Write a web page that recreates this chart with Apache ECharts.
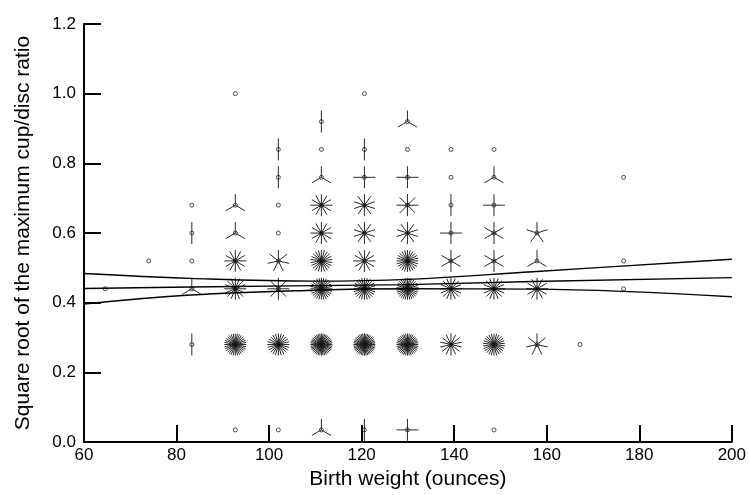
<!DOCTYPE html>
<html>
<head>
<meta charset="utf-8">
<script src="https://cdn.jsdelivr.net/npm/echarts@6/dist/echarts.min.js"></script>
<style>html,body{margin:0;padding:0;background:#fff;}#chart{width:749px;height:495px;}</style>
</head>
<body>
<div id="chart"></div>
<script>
// Birth weight bins (ounces) – x positions of the sunflowers
const weights = [64.6, 74.0, 83.3, 92.7, 102.0, 111.3, 120.6, 129.9, 139.3, 148.6, 157.9, 167.2, 176.6];
// Square-root cup/disc ratio levels
const ratioLevels = [0.035, 0.28, 0.44, 0.52, 0.60, 0.68, 0.76, 0.84, 0.92, 1.00];
// Number of observations (petals) at each level, aligned with weights
const counts_0035 = [0, 0, 0, 1, 1, 3, 2, 4, 0, 1, 0, 0, 0];
const counts_028  = [0, 0, 2, 32, 24, 40, 40, 36, 14, 26, 7, 1, 0];
const counts_044  = [1, 0, 3, 16, 8, 28, 24, 30, 16, 16, 12, 0, 1];
const counts_052  = [0, 1, 1, 12, 7, 22, 12, 24, 6, 6, 3, 0, 1];
const counts_060  = [0, 0, 2, 3, 1, 12, 10, 10, 4, 6, 5, 0, 0];
const counts_068  = [0, 0, 1, 3, 1, 12, 10, 8, 2, 4, 0, 0, 0];
const counts_076  = [0, 0, 0, 0, 2, 3, 4, 4, 1, 3, 0, 0, 1];
const counts_084  = [0, 0, 0, 0, 2, 1, 2, 1, 1, 1, 0, 0, 0];
const counts_092  = [0, 0, 0, 0, 0, 2, 0, 3, 0, 0, 0, 0, 0];
const counts_100  = [0, 0, 0, 1, 0, 0, 1, 0, 0, 0, 0, 0, 0];
const countsByLevel = [counts_0035, counts_028, counts_044, counts_052, counts_060,
                       counts_068, counts_076, counts_084, counts_092, counts_100];

// Regression line and confidence band
const bandX  = [60, 83, 110, 130, 157, 200];
const fitY   = [0.441, 0.445, 0.449, 0.452, 0.461, 0.472];
const upperY = [0.484, 0.470, 0.462, 0.467, 0.489, 0.525];
const lowerY = [0.396, 0.422, 0.436, 0.440, 0.439, 0.417];

const xTicks = [60, 80, 100, 120, 140, 160, 180, 200];
const yTicks = [0.0, 0.2, 0.4, 0.6, 0.8, 1.0, 1.2];

const sunData = [];
ratioLevels.forEach((lv, r) => {
  countsByLevel[r].forEach((c, i) => {
    if (c > 0) sunData.push([weights[i], lv, c]);
  });
});

function renderSunflower(params, api) {
  const p = api.coord([api.value(0), api.value(1)]);
  const n = api.value(2);
  const L = 11;
  const children = [];
  if (n > 1) {
    for (let k = 0; k < n; k++) {
      const a = -Math.PI / 2 + 2 * Math.PI * k / n;
      children.push({
        type: 'line',
        shape: { x1: p[0], y1: p[1], x2: p[0] + L * Math.cos(a), y2: p[1] + L * Math.sin(a) },
        style: { stroke: '#111', lineWidth: 0.9 }
      });
    }
  }
  children.push({
    type: 'circle',
    shape: { cx: p[0], cy: p[1], r: 2 },
    style: { fill: n > 1 ? 'transparent' : '#fff', stroke: '#222', lineWidth: 0.8 }
  });
  return { type: 'group', children: children };
}

function pairs(xs, ys) { return xs.map((x, i) => [x, ys[i]]); }

const chart = echarts.init(document.getElementById('chart'), null, { renderer: 'canvas' });
const font = 'Liberation Sans, Arial, Helvetica, sans-serif';
chart.setOption({
  animation: false,
  backgroundColor: '#fff',
  grid: { left: 84, right: 16, top: 24, bottom: 52, containLabel: false },
  xAxis: {
    type: 'value', min: 60, max: 200, interval: 20,
    name: 'Birth weight (ounces)', nameLocation: 'middle', nameGap: 25,
    nameTextStyle: { fontFamily: font, fontSize: 21, color: '#000' },
    axisLine: { show: true, onZero: false, lineStyle: { color: '#000', width: 2 } },
    axisTick: { show: true, inside: true, length: 17, lineStyle: { color: '#000', width: 2 } },
    axisLabel: { color: '#000', fontFamily: font, fontSize: 17, margin: 5,
      formatter: v => xTicks.includes(v) ? String(v) : '' },
    splitLine: { show: false }
  },
  yAxis: {
    type: 'value', min: 0, max: 1.2, interval: 0.2,
    name: 'Square root of the maximum cup/disc ratio', nameLocation: 'middle', nameGap: 50,
    nameTextStyle: { fontFamily: font, fontSize: 21, color: '#000' },
    axisLine: { show: true, lineStyle: { color: '#000', width: 2 } },
    axisTick: { show: true, inside: true, length: 17, lineStyle: { color: '#000', width: 2 } },
    axisLabel: { color: '#000', fontFamily: font, fontSize: 17, margin: 8,
      formatter: v => yTicks[Math.round(v / 0.2)].toFixed(1) },
    splitLine: { show: false }
  },
  series: [
    {
      type: 'custom', name: 'sunflowers', renderItem: renderSunflower,
      data: sunData, encode: { x: 0, y: 1 }, z: 2, clip: true
    },
    { type: 'line', name: 'fit', data: pairs(bandX, fitY), showSymbol: false, smooth: false,
      lineStyle: { color: '#000', width: 1.4 }, z: 3 },
    { type: 'line', name: 'upper', data: pairs(bandX, upperY), showSymbol: false, smooth: 0.4,
      lineStyle: { color: '#000', width: 1.4 }, z: 3 },
    { type: 'line', name: 'lower', data: pairs(bandX, lowerY), showSymbol: false, smooth: 0.4,
      lineStyle: { color: '#000', width: 1.4 }, z: 3 }
  ]
});
</script>
</body>
</html>
